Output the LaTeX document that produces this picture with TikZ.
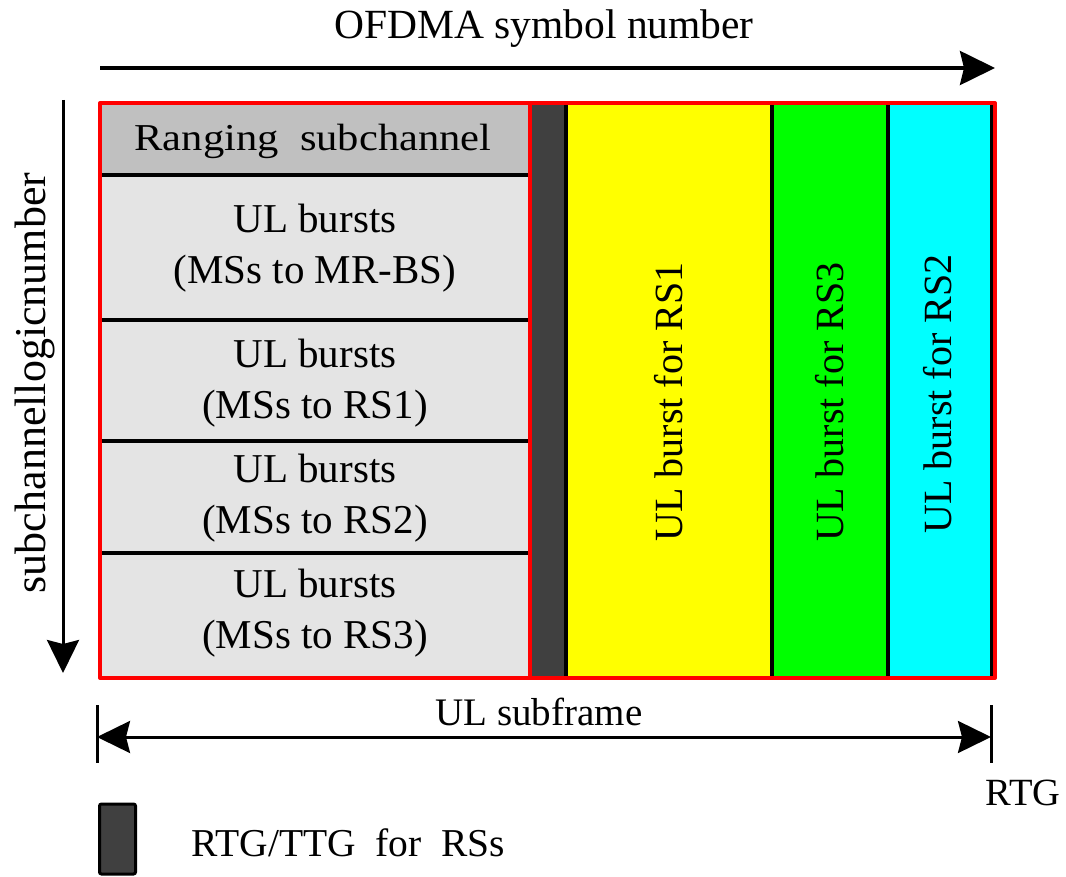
\documentclass[tikz,border=0pt]{standalone}
\usepackage{fontspec}
\usepackage{graphicx}
\setmainfont{Liberation Serif}
\usetikzlibrary{arrows.meta}

\definecolor{rangegray}{HTML}{C0C0C0}
\definecolor{burstgray}{HTML}{E4E4E4}
\definecolor{gapgray}{HTML}{404040}
\definecolor{rsyellow}{HTML}{FFFF00}
\definecolor{rsgreen}{HTML}{00FF00}
\definecolor{rscyan}{HTML}{00FFFF}
\definecolor{frame}{HTML}{FF0000}

\newcommand{\fsz}[1]{\fontsize{#1}{1.2\dimexpr#1pt\relax}\selectfont}

\begin{document}
\begin{tikzpicture}[x=1pt,y=-1pt,
  cell/.style={draw=none,inner sep=0pt,outer sep=0pt,align=center},
  bursttext/.style={align=center,font=\fontsize{41}{51}\selectfont},
  vlabel/.style={rotate=90,font=\fsz{40},inner sep=0pt},
  sep/.style={line width=4pt,black},
  redline/.style={line width=4pt,frame},
  bigtip/.style={-{Stealth[length=35pt,width=34pt,inset=4pt]}},
  axisline/.style={line width=3.5pt,black},
  dimline/.style={line width=3pt,black,{Stealth[length=33pt,width=32pt,inset=4pt]}-{Stealth[length=33pt,width=32pt,inset=4pt]}},
  tick/.style={line width=3pt,black}
]
\useasboundingbox (0,0) rectangle (1066,877);

% left column: ranging region and the four UL burst zones
\node[cell,fill=rangegray,minimum width=430pt,minimum height=72pt] (rng) at (315,139) {};
\node[font=\fsz{38}] (rngtxt) at (313,141) {\scalebox{1.12}[1]{Ranging\ \ subchannel}};
\node[cell,fill=burstgray,minimum width=430pt,minimum height=145pt] (mrbs) at (315,247.5) {};
\node[cell,fill=burstgray,minimum width=430pt,minimum height=121pt] (bs1) at (315,380.5) {};
\node[cell,fill=burstgray,minimum width=430pt,minimum height=112pt] (bs2) at (315,497) {};
\node[cell,fill=burstgray,minimum width=430pt,minimum height=125pt] (bs3) at (315,615.5) {};
\node[bursttext] (mrbstxt) at (315,248) {UL bursts\\(MSs to MR-BS)};
\node[bursttext] (bs1txt) at (315,383) {UL bursts\\(MSs to RS1)};
\node[bursttext] (bs2txt) at (315,498) {UL bursts\\(MSs to RS2)};
\node[bursttext] (bs3txt) at (315,613) {UL bursts\\(MSs to RS3)};

% transition gap and relay bursts
\node[cell,fill=gapgray,minimum width=36pt,minimum height=575pt] (gap) at (548,390.5) {};
\node[cell,fill=rsyellow,minimum width=206pt,minimum height=575pt] (yel) at (669,390.5) {};
\node[cell,fill=rsgreen,minimum width=116pt,minimum height=575pt] (grn) at (830,390.5) {};
\node[cell,fill=rscyan,minimum width=104pt,minimum height=575pt] (cyn) at (940,390.5) {};
\node[vlabel] (yeltxt) at (669,402) {UL burst for RS1};
\node[vlabel] (grntxt) at (830,402) {UL burst for RS3};
\node[vlabel] (cyntxt) at (938,394) {UL burst for RS2};

% separators
\draw[sep] (rng.south west) -- (rng.south east);
\draw[sep] (mrbs.south west) -- (mrbs.south east);
\draw[sep] (bs1.south west) -- (bs1.south east);
\draw[sep] (bs2.south west) -- (bs2.south east);
\draw[sep] (gap.north east) -- (gap.south east);
\draw[sep] (yel.north east) -- (yel.south east);
\draw[sep] (grn.north east) -- (grn.south east);
\draw[sep] (cyn.north east) -- (cyn.south east);

% red outline of the subframe
\draw[redline,line join=round] (rng.north west) rectangle (995,678);
\draw[redline] (rng.north east) -- (bs3.south east);

% axes
\coordinate (xa0) at (100,68);
\coordinate (xa1) at (995,68);
\coordinate (ya0) at (63,100);
\coordinate (ya1) at (63,673);
\draw[axisline,bigtip] (xa0) -- (xa1);
\draw[line width=3pt,black,-{Stealth[length=33pt,width=32pt,inset=4pt]}] (ya0) -- (ya1);
\node[font=\fsz{41.5}] (xlab) at (544,29) {OFDMA symbol number};
\node[font=\fsz{44},rotate=90] (ylab) at (35,383) {subchannellogicnumber};

% subframe extent
\coordinate (t0a) at (97,705);
\coordinate (t0b) at (97,763);
\coordinate (t1a) at (991,705);
\coordinate (t1b) at (991,763);
\coordinate (d0) at (97,737);
\coordinate (d1) at (991,737);
\draw[tick] (t0a) -- (t0b);
\draw[tick] (t1a) -- (t1b);
\draw[dimline] (d0) -- (d1);
\node[font=\fsz{39}] (sublab) at (539,712) {UL subframe};
\node[font=\fsz{38.5}] (rtg) at (1023,793) {RTG};

% legend
\node[draw=black,line width=3pt,fill=gapgray,rounded corners=2pt,inner sep=0pt,minimum width=36pt,minimum height=70pt] (leg) at (117.5,839) {};
\node[font=\fsz{39.5},anchor=west] (legtxt) at (188,843) {RTG/TTG\ \ for\ \ RSs};
\end{tikzpicture}
\end{document}
